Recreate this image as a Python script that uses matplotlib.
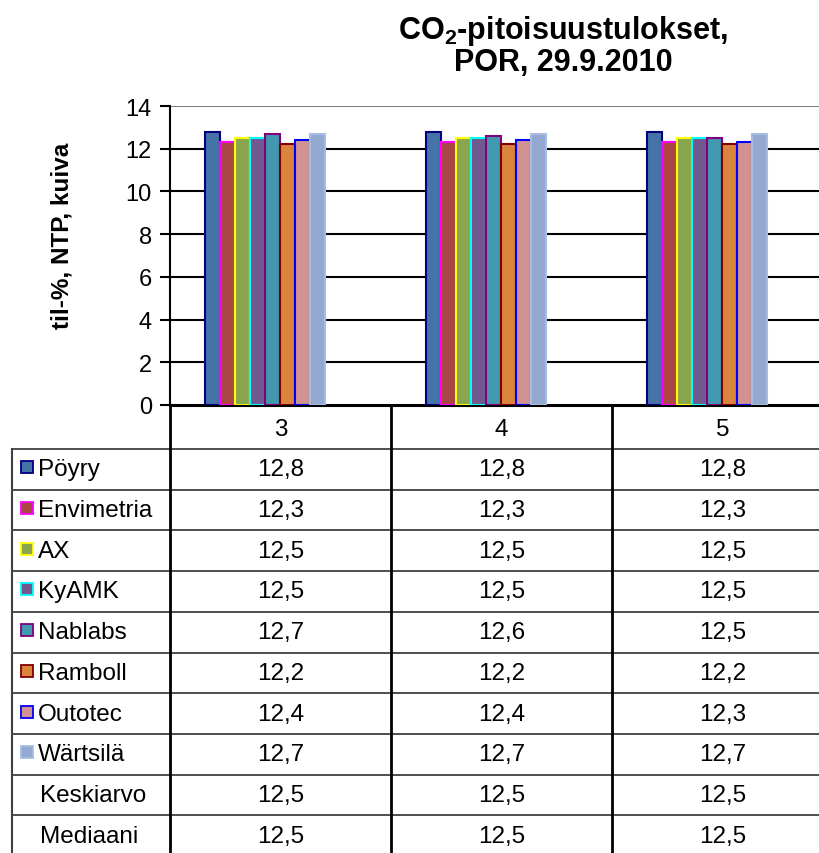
import numpy as np
import matplotlib
matplotlib.use('Agg')
import matplotlib.pyplot as plt
from matplotlib.patches import Rectangle

plt.rcParams['font.family'] = ['Liberation Sans', 'DejaVu Sans']
plt.rcParams['mathtext.fontset'] = 'custom'
plt.rcParams['mathtext.rm'] = 'Liberation Sans'
plt.rcParams['mathtext.bf'] = 'Liberation Sans:bold'

categories = ['3', '4', '5']
labs = ['Pöyry', 'Envimetria', 'AX', 'KyAMK', 'Nablabs', 'Ramboll', 'Outotec', 'Wärtsilä']
pöyry = [12.8, 12.8, 12.8]
envimetria = [12.3, 12.3, 12.3]
ax_vals = [12.5, 12.5, 12.5]
kyamk = [12.5, 12.5, 12.5]
nablabs = [12.7, 12.6, 12.5]
ramboll = [12.2, 12.2, 12.2]
outotec = [12.4, 12.4, 12.3]
wartsila = [12.7, 12.7, 12.7]
keskiarvo = [12.5, 12.5, 12.5]
mediaani = [12.5, 12.5, 12.5]

series = [pöyry, envimetria, ax_vals, kyamk, nablabs, ramboll, outotec, wartsila]
fills = ['#4572A7', '#AA4643', '#89A54E', '#71588F', '#4198AF', '#DB843D', '#D09391', '#93A9CF']
edges = ['#000080', '#FF00FF', '#FFFF00', '#00FFFF', '#800080', '#800000', '#0000FF', '#A8BCE0']

W, H = 820, 854
fig = plt.figure(figsize=(W / 100, H / 100), dpi=100)

# layout in pixels
x_axis_left, x_axis_right = 170, 833
y_top, y_zero = 107, 406
tab_left = 12
header_h = 44
row_h = 40.7
fs = 17.5

ax = fig.add_axes([x_axis_left / W, 1 - y_zero / H,
                   (x_axis_right - x_axis_left) / W, (y_zero - y_top) / H])

n_slots = 10  # Keskiarvo and Mediaani take invisible slots
bw = 15 / 221
x = np.arange(len(categories))
for i, vals in enumerate(series):
    off = (i - (n_slots - 1) / 2) * bw
    ax.bar(x + off, vals, width=bw, color=fills[i], edgecolor=edges[i], linewidth=1.5, zorder=3)

ax.set_xlim(-0.5, 2.5)
ax.set_ylim(0, 14)
ax.set_yticks(range(0, 15, 2))
for v in range(2, 14, 2):
    ax.axhline(v, color='black', lw=1.5, zorder=1)
ax.axhline(14, color='#808080', lw=1.5, zorder=1)
ax.set_xticks([])
for s in ['top', 'right']:
    ax.spines[s].set_visible(False)
ax.spines['left'].set_linewidth(1.5)
ax.spines['bottom'].set_linewidth(2.2)
ax.tick_params(axis='y', direction='out', length=7, width=1.5, labelsize=17, pad=6)
ax.set_ylabel('til-%, NTP, kuiva', fontsize=17.5, fontweight='bold')
ax.yaxis.set_label_coords(-0.146, 0.57)

fig.text(563 / W, 1 - 46 / H, 'CO$_\\mathbf{2}$-pitoisuustulokset,\nPOR, 29.9.2010',
         ha='center', va='center', fontsize=22, fontweight='bold', linespacing=1.0)

# data table below the plot
tab = fig.add_axes([0, 0, 1, 1])
tab.set_xlim(0, W)
tab.set_ylim(H, 0)
tab.axis('off')

col_w = (x_axis_right - x_axis_left) / len(categories)
col_x = [x_axis_left + col_w * k for k in range(len(categories) + 1)]
rows = labs + ['Keskiarvo', 'Mediaani']
table_vals = series + [keskiarvo, mediaani]
row_top = y_zero + header_h

# header cells
for k, c in enumerate(categories):
    tab.text((col_x[k] + col_x[k + 1]) / 2, y_zero + header_h / 2 + 2, c,
             ha='center', va='center', fontsize=fs)
# horizontal lines
for r in range(len(rows) + 1):
    yy = row_top + r * row_h
    tab.plot([tab_left, W + 20], [yy, yy], color='#404040', lw=1.3)
# vertical lines
tab.plot([tab_left, tab_left], [row_top, H + 5], color='#404040', lw=1.5)
for k in range(len(categories) + 1):
    tab.plot([col_x[k], col_x[k]], [y_zero, H + 5], color='black', lw=2)

for r, name in enumerate(rows):
    yc = row_top + r * row_h + row_h / 2
    if r < len(fills):
        tab.add_patch(Rectangle((21, yc - 8), 12, 12, facecolor=fills[r],
                                edgecolor=edges[r], lw=1.3))
        tab.text(38, yc, name, ha='left', va='center', fontsize=fs)
    else:
        tab.text(40, yc, name, ha='left', va='center', fontsize=fs)
    for k in range(len(categories)):
        tab.text((col_x[k] + col_x[k + 1]) / 2, yc, f'{table_vals[r][k]:.1f}'.replace('.', ','),
                 ha='center', va='center', fontsize=fs)

fig.savefig('out.png', dpi=100)
